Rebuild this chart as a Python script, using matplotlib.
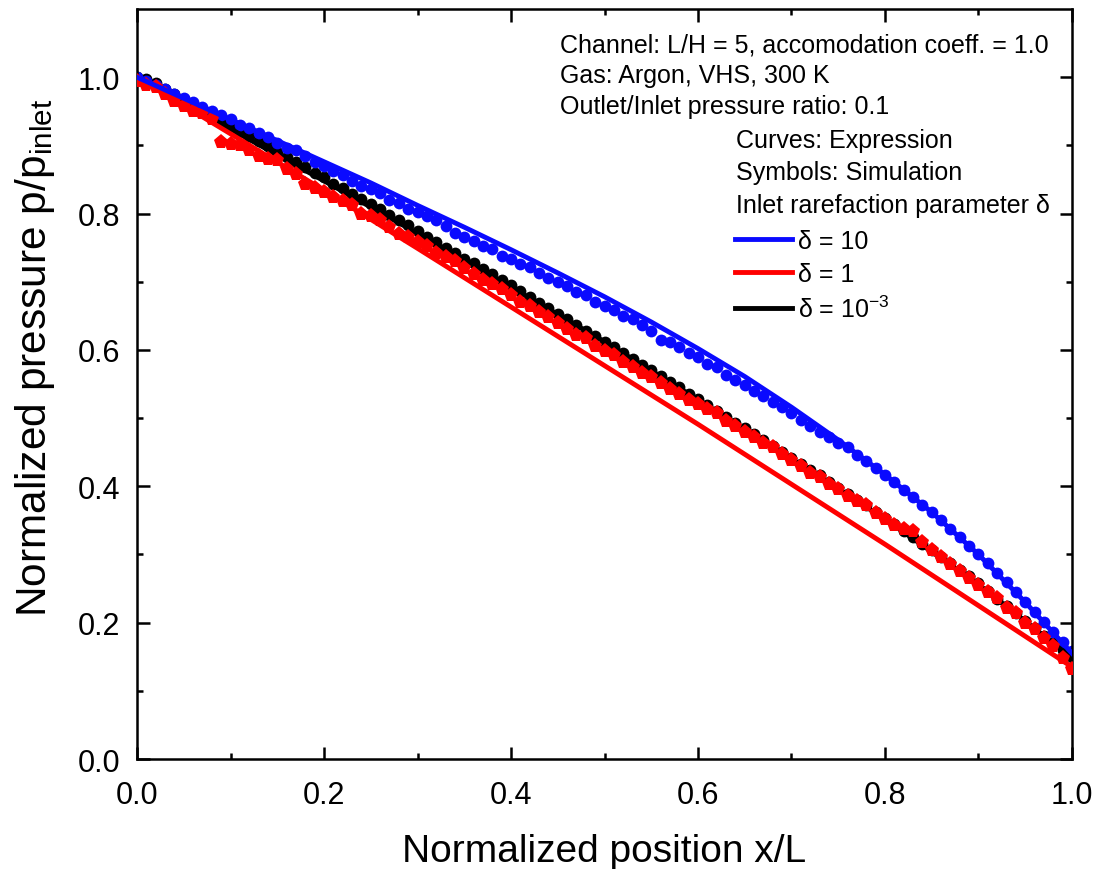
import numpy as np
import matplotlib
matplotlib.use('Agg')
import matplotlib.pyplot as plt

plt.rcParams['font.family'] = ['Liberation Sans', 'DejaVu Sans']
plt.rcParams['mathtext.fontset'] = 'custom'
plt.rcParams['mathtext.rm'] = 'Liberation Sans'
plt.rcParams['mathtext.it'] = 'Liberation Sans:italic'

# Expression curves
x_blue_curve = [0.0, 0.05, 0.1, 0.15, 0.2, 0.25, 0.3, 0.35, 0.4, 0.45, 0.5,
                0.55, 0.6, 0.65, 0.7, 0.75, 0.8, 0.85, 0.9, 0.95, 1.0]
p_blue_curve = [1.000, 0.969, 0.938, 0.907, 0.876, 0.845, 0.812, 0.780, 0.747, 0.713, 0.678,
                0.641, 0.602, 0.561, 0.516, 0.468, 0.417, 0.362, 0.300, 0.230, 0.155]
x_curve = [0.0, 0.1, 0.2, 0.3, 0.4, 0.5, 0.6, 0.7, 0.8, 0.9, 1.0]
p_red_curve = [1.000, 0.917, 0.834, 0.749, 0.663, 0.577, 0.491, 0.403, 0.315, 0.225, 0.135]
p_black_curve = [1.000, 0.924, 0.848, 0.771, 0.692, 0.612, 0.527, 0.440, 0.352, 0.256, 0.148]

# Simulation symbols, x/L = 0.00 ... 1.00
x_sim = np.linspace(0, 1, 101)
p_blue_sim = [1.000, 0.994, 0.988, 0.982, 0.975, 0.969, 0.963, 0.957, 0.950, 0.944, 0.938,
              0.930, 0.925, 0.918, 0.912, 0.903, 0.896, 0.893, 0.885, 0.876, 0.870,
              0.862, 0.857, 0.848, 0.840, 0.836, 0.830, 0.820, 0.815, 0.806, 0.802,
              0.796, 0.790, 0.782, 0.772, 0.766, 0.760, 0.752, 0.748, 0.738, 0.733,
              0.726, 0.721, 0.713, 0.706, 0.699, 0.694, 0.685, 0.680, 0.670, 0.664,
              0.658, 0.650, 0.645, 0.636, 0.628, 0.615, 0.612, 0.604, 0.596, 0.589,
              0.580, 0.575, 0.563, 0.556, 0.549, 0.540, 0.532, 0.523, 0.516, 0.508,
              0.497, 0.489, 0.480, 0.472, 0.463, 0.458, 0.446, 0.437, 0.427, 0.417,
              0.406, 0.395, 0.384, 0.373, 0.362, 0.350, 0.338, 0.326, 0.313, 0.301,
              0.287, 0.273, 0.259, 0.245, 0.230, 0.216, 0.201, 0.186, 0.171, 0.158]
p_red_sim = [0.995, 0.988, 0.985, 0.975, 0.965, 0.958, 0.950, 0.947, 0.938, 0.905, 0.902,
             0.900, 0.893, 0.885, 0.880, 0.878, 0.866, 0.858, 0.843, 0.838, 0.832,
             0.825, 0.818, 0.812, 0.800, 0.796, 0.790, 0.780, 0.770, 0.766, 0.758,
             0.752, 0.742, 0.736, 0.730, 0.720, 0.712, 0.703, 0.696, 0.690, 0.680,
             0.671, 0.665, 0.655, 0.648, 0.640, 0.630, 0.622, 0.618, 0.606, 0.598,
             0.592, 0.582, 0.575, 0.566, 0.560, 0.552, 0.542, 0.535, 0.527, 0.520,
             0.514, 0.507, 0.496, 0.489, 0.480, 0.472, 0.463, 0.457, 0.447, 0.438,
             0.430, 0.420, 0.414, 0.404, 0.396, 0.386, 0.378, 0.372, 0.361, 0.352,
             0.343, 0.338, 0.334, 0.318, 0.306, 0.296, 0.286, 0.276, 0.266, 0.255,
             0.245, 0.236, 0.222, 0.214, 0.200, 0.190, 0.178, 0.166, 0.148, 0.132]
p_black_sim = [1.000, 0.998, 0.991, 0.983, 0.976, 0.968, 0.961, 0.953, 0.945, 0.937, 0.930,
               0.921, 0.914, 0.906, 0.899, 0.891, 0.883, 0.876, 0.868, 0.860, 0.853,
               0.844, 0.837, 0.829, 0.821, 0.814, 0.806, 0.798, 0.790, 0.783, 0.775,
               0.766, 0.758, 0.750, 0.742, 0.734, 0.727, 0.719, 0.711, 0.703, 0.695,
               0.686, 0.678, 0.669, 0.661, 0.653, 0.645, 0.637, 0.628, 0.620, 0.612,
               0.604, 0.595, 0.587, 0.578, 0.570, 0.562, 0.553, 0.545, 0.536, 0.528,
               0.519, 0.511, 0.502, 0.493, 0.485, 0.476, 0.468, 0.459, 0.450, 0.442,
               0.433, 0.424, 0.416, 0.407, 0.398, 0.389, 0.380, 0.372, 0.363, 0.354,
               0.344, 0.335, 0.325, 0.316, 0.306, 0.296, 0.287, 0.277, 0.268, 0.258,
               0.246, 0.235, 0.225, 0.214, 0.203, 0.192, 0.181, 0.170, 0.160, 0.149]

info_lines = ['Channel: L/H = 5, accomodation coeff. = 1.0',
              'Gas: Argon, VHS, 300 K',
              'Outlet/Inlet pressure ratio: 0.1']
legend_head = ['Curves: Expression', 'Symbols: Simulation',
               'Inlet rarefaction parameter \u03b4']

fig = plt.figure(figsize=(10.97, 8.70), dpi=100)
ax = fig.add_axes([0.1249, 0.1264, 0.8523, 0.8621])

# symbols
ax.plot(x_sim, p_black_sim, 'o', color='black', ms=8.5, mew=0, zorder=2)
ax.plot(x_sim, p_blue_sim, 'o', color='#0a0aff', ms=8.5, mew=0, zorder=2)
# curves
l_black, = ax.plot(x_curve, p_black_curve, '-', color='black', lw=3.5, zorder=3,
                   label='\u03b4 = 10$^{-3}$')
ax.plot(x_sim, p_red_sim, 'p', color='#ff0000', ms=11, mew=0, zorder=4)
l_red, = ax.plot(x_curve, p_red_curve, '-', color='#ff0000', lw=3.5, zorder=4,
                 label='\u03b4 = 1')
l_blue, = ax.plot(x_blue_curve, p_blue_curve, '-', color='#0a0aff', lw=3.5, zorder=5,
                  label='\u03b4 = 10')

ax.set_xlim(0, 1.0)
ax.set_ylim(0, 1.1)
ax.set_xticks([0.0, 0.2, 0.4, 0.6, 0.8, 1.0])
ax.set_yticks([0.0, 0.2, 0.4, 0.6, 0.8, 1.0])
ax.set_xticks(np.arange(0.1, 1.0, 0.2), minor=True)
ax.set_yticks(np.arange(0.1, 1.1, 0.2), minor=True)
ax.tick_params(which='both', direction='in', top=True, right=True, width=1.8,
               labelsize=22)
ax.tick_params(axis='x', pad=15)
ax.tick_params(axis='y', pad=12)
ax.tick_params(which='major', length=9)
ax.tick_params(which='minor', length=4.5)
for s in ax.spines.values():
    s.set_linewidth(1.8)

ax.set_xlabel('Normalized position x/L', fontsize=28, labelpad=17)
ax.set_ylabel('Normalized pressure p/p$_{\\mathrm{inlet}}$', fontsize=30.5)
ax.yaxis.set_label_coords(-0.086, 0.536)

ys = [0.9533, 0.912, 0.8707]
for t, yy in zip(info_lines, ys):
    ax.text(0.4524, yy, t, transform=ax.transAxes, fontsize=18, va='center')
ys = [0.8253, 0.7827, 0.7387]
for t, yy in zip(legend_head, ys):
    ax.text(0.6406, yy, t, transform=ax.transAxes, fontsize=18, va='center')

ax.legend(handles=[l_blue, l_red, l_black], loc='upper left',
          bbox_to_anchor=(0.6396, 0.7073), frameon=False, fontsize=18,
          handlelength=2.28, handletextpad=0.25, borderpad=0, borderaxespad=0,
          labelspacing=0.38)

fig.savefig('out.png', dpi=100)
